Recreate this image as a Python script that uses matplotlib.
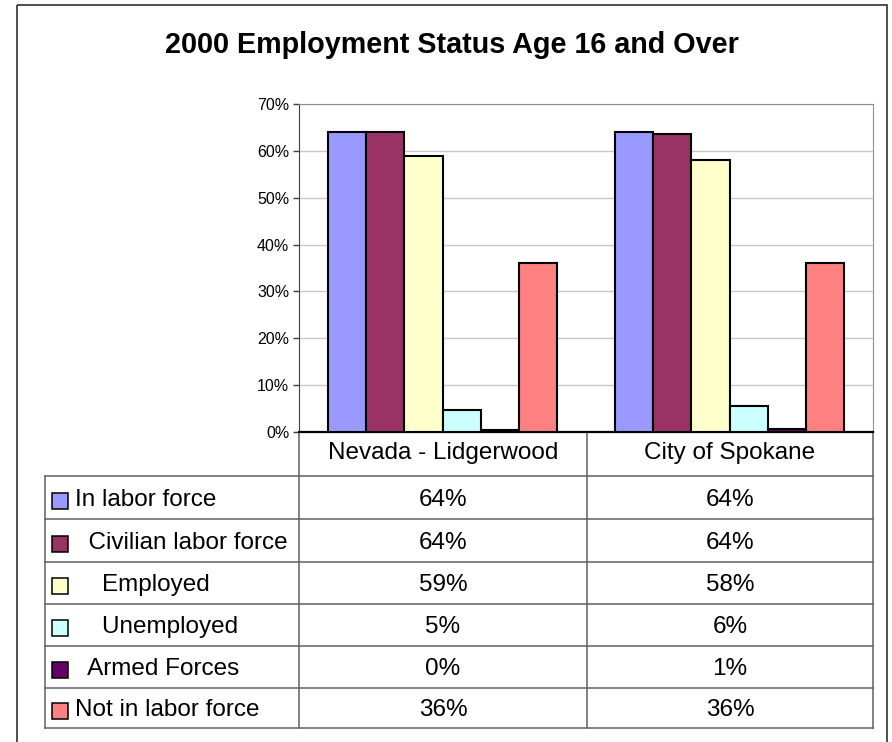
import matplotlib
matplotlib.use("Agg")
import matplotlib.pyplot as plt
from matplotlib.patches import Rectangle
import numpy as np

plt.rcParams['font.family'] = ['Liberation Sans', 'DejaVu Sans']

# ---------------- data ----------------
title = "2000 Employment Status Age 16 and Over"
categories = ["Nevada - Lidgerwood", "City of Spokane"]
series_names = ["In labor force", "  Civilian labor force", "    Employed",
                "    Unemployed", "  Armed Forces", "Not in labor force"]
series_colors = ["#9999FF", "#993366", "#FFFFCC", "#CCFFFF", "#660066", "#FF8080"]
nevada = [64.1, 64.1, 58.9, 4.7, 0.4, 36.0]
spokane = [64.1, 63.7, 58.0, 5.6, 0.6, 36.0]
y_ticks = [0, 10, 20, 30, 40, 50, 60, 70]
y_tick_labels = [f"{t}%" for t in y_ticks]

# ---------------- layout (pixels) ----------------
W, H = 892, 742
fig = plt.figure(figsize=(W / 100, H / 100), dpi=100)

ov = fig.add_axes([0, 0, 1, 1])
ov.set_xlim(0, W)
ov.set_ylim(H, 0)
ov.axis('off')
ov.patch.set_visible(False)

# outer chart border
ov.add_patch(Rectangle((17, 5), 870, 760, fill=False, ec='#303030', lw=1.2))

# title
ov.text(452, 45, title, ha='center', va='center', fontsize=20.7,
        fontweight='bold', color='black')

# plot area
pl, pr, pt, pb = 299, 873, 104, 432
ax = fig.add_axes([pl / W, 1 - pb / H, (pr - pl) / W, (pb - pt) / H], zorder=5)
ax.set_xlim(0, 2)
ax.set_ylim(0, 70)
w = 1 / 7.5
xc = np.arange(len(categories)) + 0.5
for j in range(len(series_names)):
    vals = [nevada[j], spokane[j]]
    ax.bar(xc + (j - 2.5) * w, vals, w, color=series_colors[j],
           edgecolor='black', linewidth=1.5, zorder=3)
ax.set_yticks(y_ticks)
ax.set_yticklabels(y_tick_labels)
ax.yaxis.grid(True, color='#c8c8c8', linewidth=1)
ax.set_axisbelow(True)
ax.tick_params(axis='y', length=4, width=1, labelsize=11.5, pad=3, color='#404040')
ax.tick_params(axis='x', length=0, labelbottom=False)
ax.spines['left'].set_color('#404040')
ax.spines['bottom'].set_color('black')
ax.spines['bottom'].set_linewidth(1.6)
ax.spines['top'].set_color('#909090')
ax.spines['right'].set_color('#909090')

# ---------------- data table ----------------
tl = 45
col_x = [pl, 587, pr]
row_y = [476, 519.3, 561.7, 603.5, 645.7, 687.7, 727.5]
lc = '#606060'
for y in row_y:
    ov.plot([tl, pr], [y, y], color=lc, lw=1.1)
ov.plot([tl, tl], [row_y[0], row_y[-1]], color=lc, lw=1.1)
for x in col_x:
    ov.plot([x, x], [pb, row_y[-1]], color=lc, lw=1.1)

col_centers = [(col_x[i] + col_x[i + 1]) / 2 for i in range(len(categories))]
fs = 17.5
for i, c in enumerate(categories):
    ov.text(col_centers[i], pb + 26.5, c, ha='center', va='baseline', fontsize=fs)

for j, name in enumerate(series_names):
    top, bot = row_y[j], row_y[j + 1]
    h = bot - top
    base = top + 0.70 * h
    cy = (top + bot) / 2 + 3.5
    ov.add_patch(Rectangle((52, cy - 8), 16, 16, facecolor=series_colors[j],
                           edgecolor='black', lw=1.1))
    ov.text(75, base, name, ha='left', va='baseline', fontsize=fs)
    for i, vals in enumerate([nevada, spokane]):
        ov.text(col_centers[i], base, f"{round(vals[j])}%", ha='center',
                va='baseline', fontsize=fs)

fig.savefig("out.png", dpi=100)
